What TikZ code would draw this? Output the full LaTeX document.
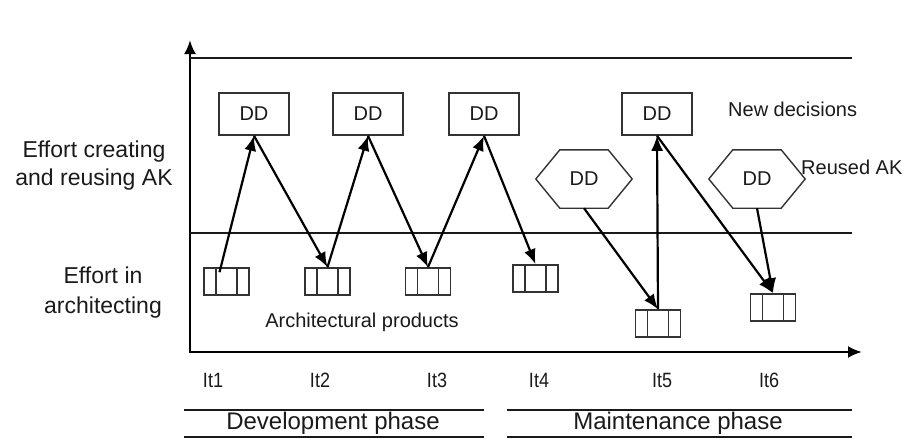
\documentclass[tikz,border=0pt]{standalone}
\usepackage{fontspec}
\setmainfont{Liberation Sans}
\usetikzlibrary{arrows.meta}

\definecolor{inkgray}{HTML}{1A1A1A}
\definecolor{boxgray}{HTML}{333333}

\tikzset{
    dd/.style={draw=boxgray,line width=1.6pt,fill=white,minimum width=70pt,minimum height=42pt,
        inner sep=0pt,font=\fontsize{20}{24}\selectfont,text=inkgray},
    hexdd/.style={minimum width=96pt,minimum height=58pt,inner sep=0pt,
        font=\fontsize{20}{24}\selectfont,text=inkgray},
    prod/.style={draw=boxgray,line width=1.6pt,minimum width=45pt,minimum height=27pt,inner sep=0pt,
        path picture={\draw[boxgray,line width=1.6pt]
            ([xshift=-10.5pt]path picture bounding box.north) -- ([xshift=-10.5pt]path picture bounding box.south)
            ([xshift=10.5pt]path picture bounding box.north) -- ([xshift=10.5pt]path picture bounding box.south);}},
    flow/.style={line width=2.2pt,-{Latex[length=15pt,width=12pt]}},
    lbl/.style={text=inkgray,align=center,inner sep=0pt},
}

\begin{document}
\begin{tikzpicture}[x=1pt,y=-1pt]
    \useasboundingbox (0,0) rectangle (905,439);
    % axes and band lines
    \coordinate (o) at (190,352);
    \draw[line width=2.6pt,{Latex[length=14pt,width=12pt]}-{Latex[length=14pt,width=12pt]}] (190,40) -- (o) -- (862,352);
    \draw[inkgray,line width=1.1pt] (190,58) -- (852,58) (190,233) -- (852,233);

    % left side labels
    \node[lbl,font=\fontsize{23}{28}\selectfont] (create) at (94,166) {Effort creating\\and reusing AK};
    \node[lbl,font=\fontsize{23}{30}\selectfont] (arch) at (103,293) {Effort in\\architecting};

    % design decisions
    \node[dd] (d1) at (254,114) {DD};
    \node[dd] (d2) at (368,114) {DD};
    \node[dd] (d3) at (484,114) {DD};
    \node[dd] (d4) at (657,114) {DD};
    \node[hexdd] (h1) at (584,179) {DD};
    \node[hexdd] (h2) at (757,179) {DD};
    \foreach \h in {h1,h2}
        \draw[boxgray,line width=1.4pt] (\h.west) -- ([xshift=24pt]\h.north west) -- ([xshift=-24pt]\h.north east)
            -- (\h.east) -- ([xshift=-24pt]\h.south east) -- ([xshift=24pt]\h.south west) -- cycle;
    \node[lbl,anchor=west,font=\fontsize{20}{24}\selectfont] (newdec) at (728,109) {New decisions};
    \node[lbl,anchor=west,font=\fontsize{20}{24}\selectfont] (reused) at (801,167) {Reused AK};

    % architectural products
    \node[prod] (p1) at (226.5,281.5) {};
    \node[prod] (p2) at (327.5,281.5) {};
    \node[prod] (p3) at (428,281.5) {};
    \node[prod] (p4) at (535.5,278.5) {};
    \node[prod] (p5) at (658,323.5) {};
    \node[prod] (p6) at (773,307.5) {};
    \node[lbl,font=\fontsize{20}{24}\selectfont] (products) at (362,322) {Architectural products};

    % flow between products and decisions
    \draw[flow] ([xshift=-7pt,yshift=-5pt]p1.north) -- (d1.south);
    \draw[flow] (d1.south) -- (p2.north);
    \draw[flow] (p2.north) -- (d2.south);
    \draw[flow] (d2.south) -- (p3.north);
    \draw[flow] (p3.north) -- (d3.south);
    \draw[flow] (d3.south) -- (p4.north);
    \draw[flow] (h1.south) -- (p5.north);
    \draw[flow] (p5.north) -- (d4.south);
    \draw[flow] (d4.south) -- (p6.north);
    \draw[flow] (h2.south) -- (p6.north);

    % iterations
    \foreach \x/\n in {213/1,320/2,437/3,539/4,662/5,769/6}
        \node[lbl,font=\fontsize{18}{20}\selectfont,yscale=1.15] (it\n) at (\x,380) {It\n};

    % phases
    \node[lbl,font=\fontsize{24}{28}\selectfont] (dev) at (333,423) {Development phase};
    \node[lbl,font=\fontsize{24}{28}\selectfont] (maint) at (678,423) {Maintenance phase};
    \draw[inkgray,line width=1.4pt] (184,410) -- (484,410) (184,437) -- (484,437)
        (507,410) -- (852,410) (507,437) -- (852,437);
\end{tikzpicture}
\end{document}
